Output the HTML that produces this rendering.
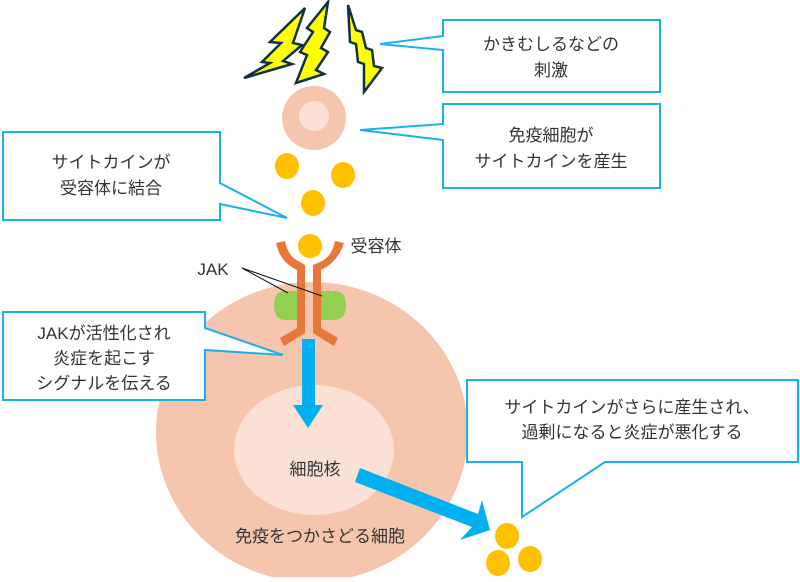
<!DOCTYPE html>
<html><head><meta charset="utf-8"><style>
body{margin:0;background:#fff}
svg text{font-family:"Liberation Sans","Noto Sans CJK JP",sans-serif;font-size:17px;fill:#333}
</style></head><body>
<svg width="800" height="577" xmlns="http://www.w3.org/2000/svg">
<ellipse cx="312" cy="432" rx="156" ry="150" fill="#f5c6ad"/>
<ellipse cx="314" cy="450" rx="80" ry="65" fill="#fbe1d5"/>
<!-- lightning -->
<g fill="#ffff00" stroke="#123040" stroke-width="2.5" stroke-linejoin="miter">
<polygon points="305,8 270,42 281,43 262,62 270,63 244,78 292,64 283,61 302,45 293,43"/>
<polygon points="328,2 307,28 313,32 300,52 307,55 296,83 324,74 316,70 328,52 321,48 330,32 324,28"/>
<polygon points="348,5 350,42 356,44 358,62 364,64 364,92 382,68 374,66 372,50 366,48 362,32 356,30"/>
</g>
<circle cx="314" cy="118" r="32" fill="#f5c6ad"/>
<circle cx="314" cy="116" r="15" fill="#fbe1d5"/>
<g fill="#ffc000">
<ellipse cx="287" cy="166" rx="12" ry="13"/>
<ellipse cx="343" cy="175" rx="12" ry="13"/>
<ellipse cx="313" cy="203" rx="12" ry="13"/>
<ellipse cx="310" cy="246" rx="12" ry="12"/>
<ellipse cx="507" cy="536" rx="12" ry="13"/>
<ellipse cx="498" cy="563" rx="12" ry="13"/>
<ellipse cx="530" cy="559" rx="12" ry="13"/>
</g>
<path d="M300,291 L285,291 Q274,291 274,305 Q274,320 285,320 L300,320Z" fill="#92d050"/>
<path d="M318,291 L334,291 Q346,291 346,305 Q346,320 334,320 L318,320Z" fill="#92d050"/>
<!-- receptor -->
<g fill="#e8773a">
<path d="M276,243 L285,241 Q288,257 300,262 L305,265 L305,320 L297,320 L297,270 Q280,262 276,243Z"/>
<path d="M344,243 L335,241 Q332,257 320,262 L313,265 L313,320 L321,320 L321,270 Q338,262 344,243Z"/>
<polygon points="297,320 305,320 305,333 284,346 280,338 297,328"/>
<polygon points="321,320 313,320 313,333 334,346 338,338 321,328"/>
</g>
<line x1="242" y1="268" x2="288" y2="293" stroke="#111" stroke-width="1"/>
<line x1="242" y1="268" x2="322" y2="296" stroke="#111" stroke-width="1"/>
<!-- arrows -->
<polygon points="302,339 315,339 315,405 323,405 308,428 293,405 302,405" fill="#00b0f0"/>
<polygon points="360,468 478,514 482,500 490,530 460,540 472,527 355,482" fill="#00b0f0"/>
<!-- callouts -->
<g fill="#fff" stroke="#1ab0ec" stroke-width="2">
<polygon points="443,20 660,20 660,92 443,92 443,50 380,44 443,36"/>
<polygon points="443,104 660,104 660,188 443,188 443,140 360,130 443,124"/>
<polygon points="3,132 220,132 220,183 287,218 220,204 220,220 3,220"/>
<polygon points="3,312 205,312 205,328 283,355 205,350 205,400 3,400"/>
<polygon points="467,380 798,380 798,462 605,462 522,517 522,462 467,462"/>
</g>
<g text-anchor="middle">
<text x="551" y="50">かきむしるなどの</text>
<text x="551" y="76">刺激</text>
<text x="551" y="141">免疫細胞が</text>
<text x="551" y="167">サイトカインを産生</text>
<text x="111" y="168">サイトカインが</text>
<text x="111" y="194">受容体に結合</text>
<text x="104" y="339">JAKが活性化され</text>
<text x="104" y="364">炎症を起こす</text>
<text x="104" y="389">シグナルを伝える</text>
<text x="632" y="413">サイトカインがさらに産生され、</text>
<text x="632" y="438">過剰になると炎症が悪化する</text>
<text x="376" y="252">受容体</text>
<text x="213" y="275">JAK</text>
<text x="315" y="475">細胞核</text>
<text x="320" y="542">免疫をつかさどる細胞</text>
</g>
</svg>
</body></html>
